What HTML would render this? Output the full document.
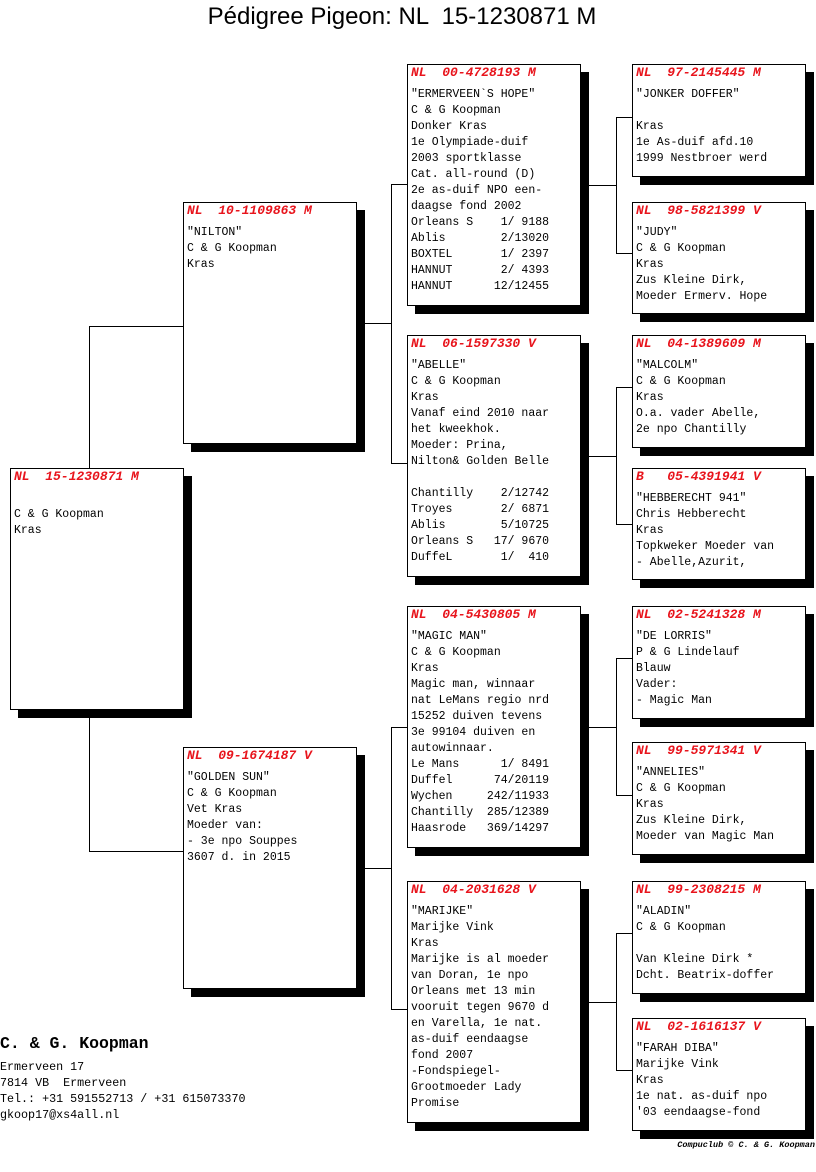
<!DOCTYPE html>
<html><head><meta charset="utf-8">
<style>
*{margin:0;padding:0;box-sizing:border-box}
body{width:816px;height:1172px;background:#fff;position:relative;overflow:hidden;font-family:"Liberation Mono",monospace;font-size:11.5px;color:#000}
.b{position:absolute;width:174px;border:1px solid #000;background:#fff;box-shadow:8px 8px 0 #000;padding:0 0 0 3px;white-space:pre;line-height:16px}
.h{color:#e8141c;font-style:italic;font-weight:bold;font-size:13px;line-height:16px;margin-bottom:6px}
.l{position:absolute;background:#000}
.t{position:absolute;left:0;width:804px;top:3px;text-align:center;font-family:"Liberation Sans",sans-serif;font-size:24px;white-space:pre}
</style></head><body>
<div class="t">Pédigree Pigeon: NL  15-1230871 M</div>

<div class="l" style="left:89px;top:326px;width:1px;height:142px"></div>
<div class="l" style="left:89px;top:326px;width:94px;height:1px"></div>
<div class="l" style="left:89px;top:717px;width:1px;height:135px"></div>
<div class="l" style="left:89px;top:851px;width:94px;height:1px"></div>

<div class="l" style="left:365px;top:323px;width:26px;height:1px"></div>
<div class="l" style="left:391px;top:184px;width:1px;height:280px"></div>
<div class="l" style="left:391px;top:184px;width:16px;height:1px"></div>
<div class="l" style="left:391px;top:463px;width:16px;height:1px"></div>

<div class="l" style="left:365px;top:868px;width:26px;height:1px"></div>
<div class="l" style="left:391px;top:727px;width:1px;height:283px"></div>
<div class="l" style="left:391px;top:727px;width:16px;height:1px"></div>
<div class="l" style="left:391px;top:1009px;width:16px;height:1px"></div>

<div class="l" style="left:588px;top:185px;width:28px;height:1px"></div>
<div class="l" style="left:616px;top:117px;width:1px;height:137px"></div>
<div class="l" style="left:616px;top:117px;width:16px;height:1px"></div>
<div class="l" style="left:616px;top:253px;width:16px;height:1px"></div>

<div class="l" style="left:588px;top:456px;width:28px;height:1px"></div>
<div class="l" style="left:616px;top:387px;width:1px;height:138px"></div>
<div class="l" style="left:616px;top:387px;width:16px;height:1px"></div>
<div class="l" style="left:616px;top:524px;width:16px;height:1px"></div>

<div class="l" style="left:588px;top:727px;width:28px;height:1px"></div>
<div class="l" style="left:616px;top:658px;width:1px;height:138px"></div>
<div class="l" style="left:616px;top:658px;width:16px;height:1px"></div>
<div class="l" style="left:616px;top:795px;width:16px;height:1px"></div>

<div class="l" style="left:588px;top:1002px;width:28px;height:1px"></div>
<div class="l" style="left:616px;top:933px;width:1px;height:138px"></div>
<div class="l" style="left:616px;top:933px;width:16px;height:1px"></div>
<div class="l" style="left:616px;top:1070px;width:16px;height:1px"></div>

<div class="b" style="left:10px;top:468px;height:242px"><div class="h">NL  15-1230871 M</div>
C &amp; G Koopman
Kras</div>

<div class="b" style="left:183px;top:202px;height:242px"><div class="h">NL  10-1109863 M</div>"NILTON"
C &amp; G Koopman
Kras</div>
<div class="b" style="left:183px;top:747px;height:242px"><div class="h">NL  09-1674187 V</div>"GOLDEN SUN"
C &amp; G Koopman
Vet Kras
Moeder van:
- 3e npo Souppes
3607 d. in 2015</div>

<div class="b" style="left:407px;top:64px;height:242px"><div class="h">NL  00-4728193 M</div>"ERMERVEEN`S HOPE"
C &amp; G Koopman
Donker Kras
1e Olympiade-duif
2003 sportklasse
Cat. all-round (D)
2e as-duif NPO een-
daagse fond 2002
Orleans S    1/ 9188
Ablis        2/13020
BOXTEL       1/ 2397
HANNUT       2/ 4393
HANNUT      12/12455</div>
<div class="b" style="left:407px;top:335px;height:242px"><div class="h">NL  06-1597330 V</div>"ABELLE"
C &amp; G Koopman
Kras
Vanaf eind 2010 naar
het kweekhok.
Moeder: Prina,
Nilton&amp; Golden Belle

Chantilly    2/12742
Troyes       2/ 6871
Ablis        5/10725
Orleans S   17/ 9670
DuffeL       1/  410</div>
<div class="b" style="left:407px;top:606px;height:242px"><div class="h">NL  04-5430805 M</div>"MAGIC MAN"
C &amp; G Koopman
Kras
Magic man, winnaar
nat LeMans regio nrd
15252 duiven tevens
3e 99104 duiven en
autowinnaar.
Le Mans      1/ 8491
Duffel      74/20119
Wychen     242/11933
Chantilly  285/12389
Haasrode   369/14297</div>
<div class="b" style="left:407px;top:881px;height:242px"><div class="h">NL  04-2031628 V</div>"MARIJKE"
Marijke Vink
Kras
Marijke is al moeder
van Doran, 1e npo
Orleans met 13 min
vooruit tegen 9670 d
en Varella, 1e nat.
as-duif eendaagse
fond 2007
-Fondspiegel-
Grootmoeder Lady
Promise</div>

<div class="b" style="left:632px;top:64px;height:113px"><div class="h">NL  97-2145445 M</div>"JONKER DOFFER"

Kras
1e As-duif afd.10
1999 Nestbroer werd</div>
<div class="b" style="left:632px;top:202px;height:112px"><div class="h">NL  98-5821399 V</div>"JUDY"
C &amp; G Koopman
Kras
Zus Kleine Dirk,
Moeder Ermerv. Hope</div>
<div class="b" style="left:632px;top:335px;height:113px"><div class="h">NL  04-1389609 M</div>"MALCOLM"
C &amp; G Koopman
Kras
O.a. vader Abelle,
2e npo Chantilly</div>
<div class="b" style="left:632px;top:468px;height:112px"><div class="h">B   05-4391941 V</div>"HEBBERECHT 941"
Chris Hebberecht
Kras
Topkweker Moeder van
- Abelle,Azurit,</div>
<div class="b" style="left:632px;top:606px;height:113px"><div class="h">NL  02-5241328 M</div>"DE LORRIS"
P &amp; G Lindelauf
Blauw
Vader:
- Magic Man</div>
<div class="b" style="left:632px;top:742px;height:113px"><div class="h">NL  99-5971341 V</div>"ANNELIES"
C &amp; G Koopman
Kras
Zus Kleine Dirk,
Moeder van Magic Man</div>
<div class="b" style="left:632px;top:881px;height:113px"><div class="h">NL  99-2308215 M</div>"ALADIN"
C &amp; G Koopman

Van Kleine Dirk *
Dcht. Beatrix-doffer</div>
<div class="b" style="left:632px;top:1018px;height:113px"><div class="h">NL  02-1616137 V</div>"FARAH DIBA"
Marijke Vink
Kras
1e nat. as-duif npo
'03 eendaagse-fond</div>

<div style="position:absolute;left:0;top:1034px;font-size:16.5px;font-weight:bold;white-space:pre">C. &amp; G. Koopman</div>
<div style="position:absolute;left:0;top:1059px;line-height:16px;white-space:pre;font-size:11.7px">Ermerveen 17
7814 VB  Ermerveen
Tel.: +31 591552713 / +31 615073370
gkoop17@xs4all.nl</div>
<div style="position:absolute;right:1px;top:1140px;font-size:8.5px;font-style:italic;font-weight:bold;white-space:pre">Compuclub © C. &amp; G. Koopman</div>
</body></html>
